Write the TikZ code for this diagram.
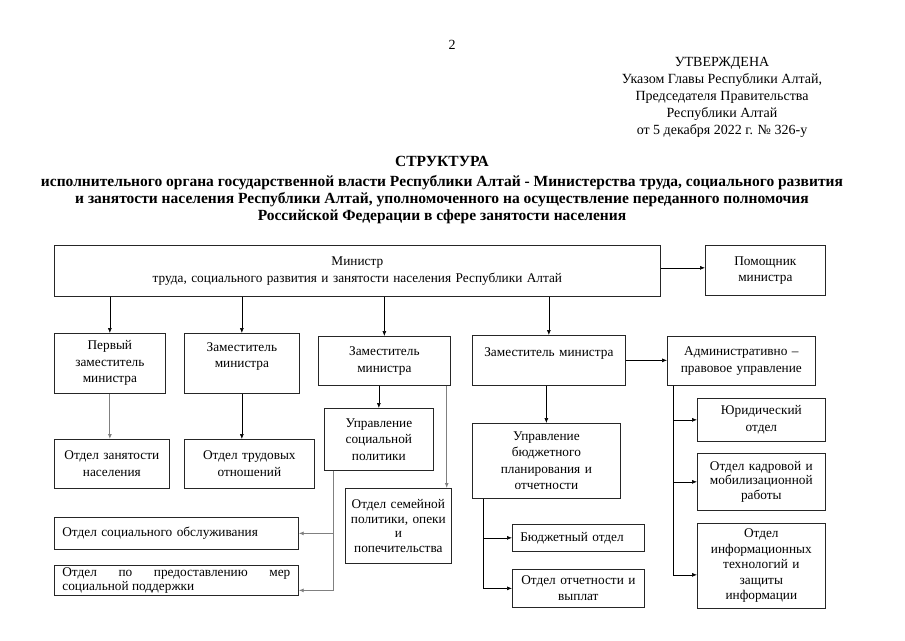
\documentclass[tikz,border=0pt]{standalone}
\usepackage{fontspec}
\setmainfont{Liberation Serif}
\usetikzlibrary{arrows.meta, positioning}

\begin{document}
\begin{tikzpicture}[x=1pt, y=-1pt,
	box/.style={rectangle, draw=black!85, line width=0.7pt, align=center, anchor=north west,
	            inner xsep=3pt, inner ysep=0pt, font=\fontsize{13.3}{16.5}\selectfont},
	bx/.style 2 args={text width=#1, minimum height=#2},
	eng/.style={font=\fontsize{13.3}{14.5}\selectfont},
	kopf/.style={font=\fontsize{14}{17}\selectfont, align=center},
	arr/.style={-{Latex[length=5pt, width=4pt]}, draw=black, line width=0.6pt},
	grau/.style={draw=black!50, line width=0.9pt}
	]
\useasboundingbox (0,0) rectangle (905,640);

\node[kopf] (seite) at (452,45) {2};
\node[kopf] (utv) at (722,97) {УТВЕРЖДЕНА\\Указом Главы Республики Алтай,\\Председателя Правительства\\Республики Алтай\\от 5 декабря 2022 г. № 326-у};
\node[kopf, font=\bfseries\fontsize{15.5}{17}\selectfont] (titel) at (442,190)
	{СТРУКТУРА\\[3pt]исполнительного органа государственной власти Республики Алтай - Министерства труда, социального развития\\и занятости населения Республики Алтай, уполномоченного на осуществление переданного полномочия\\Российской Федерации в сфере занятости населения};

\node[box, bx={600pt}{51pt}] (min) at (54,245)
	{Министр\\труда, социального развития и занятости населения Республики Алтай};
\node[box, bx={114pt}{50pt}] (pom) at (705,245) {Помощник\\министра};
\draw[arr] ([yshift=3pt]min.east) -- ([yshift=3pt]min.east -| pom.west);

\node[box, bx={105pt}{60pt}] (perv) at (54,333) {Первый\\заместитель\\министра};
\node[box, bx={109pt}{60pt}] (zam2) at (184,333) {Заместитель\\министра\\~};
\node[box, bx={126pt}{49pt}] (zam3) at (318,336) {Заместитель\\министра};
\node[box, bx={147pt}{50pt}] (zam4) at (472,335) {Заместитель министра\\~};
\node[box, bx={142pt}{49pt}] (adm) at (667,336) {Административно –\\правовое управление};
\draw[arr] (perv.north |- min.south) -- (perv.north);
\draw[arr] (zam2.north |- min.south) -- (zam2.north);
\draw[arr] (zam3.north |- min.south) -- (zam3.north);
\draw[arr] (zam4.north |- min.south) -- (zam4.north);
\draw[arr] (zam4.east) -- (zam4.east -| adm.west);

\node[box, bx={109pt}{49pt}] (zan) at (54,439) {Отдел занятости\\населения};
\node[box, bx={124pt}{49pt}] (trud) at (184,439) {Отдел трудовых\\отношений};
\draw[arr, grau] (perv.south) -- (perv.south |- zan.north);
\draw[arr] (zam2.south) -- (zam2.south |- trud.north);

\node[box, bx={103pt}{62pt}] (upsoc) at (324,408) {Управление\\социальной\\политики};
\node[box, eng, bx={100pt}{75pt}] (sem) at (345,488)
	{Отдел семейной\\политики, опеки\\и\\попечительства};
\node[box, bx={228pt}{32pt}, inner xsep=8pt, align=left] (socobs) at (54,517) {Отдел социального обслуживания};
\node[box, eng, bx={228pt}{30pt}, inner xsep=8pt, align=justify] (predost) at (54,565)
	{Отдел по предоставлению мер\linebreak социальной поддержки};
\draw[arr] (upsoc.north |- zam3.south) -- (upsoc.north);
\draw[arr, grau] ([xshift=-4pt]zam3.south east) -- ([xshift=-4pt]zam3.south east |- sem.north);
\coordinate (us) at ([xshift=9pt]upsoc.south west);
\draw[arr, grau] (us) |- (socobs.east);
\draw[arr, grau] (us) |- ([yshift=-10pt]predost.east);

\node[box, bx={142pt}{75pt}] (upbud) at (472,423)
	{Управление\\бюджетного\\планирования и\\отчетности};
\node[box, bx={116pt}{27pt}, inner xsep=8pt, align=left] (budg) at (512,524) {Бюджетный отдел};
\node[box, bx={126pt}{38pt}] (otch) at (512,569) {Отдел отчетности и\\выплат};
\draw[arr] (upbud.north |- zam4.south) -- (upbud.north);
\coordinate (ub) at ([xshift=11pt]upbud.south west);
\draw[arr] (ub) |- (budg.west);
\draw[arr] (ub) |- (otch.west);

\node[box, bx={122pt}{43pt}] (jur) at (697,398) {Юридический\\отдел};
\node[box, eng, bx={122pt}{57pt}] (kadr) at (697,453) {Отдел кадровой и\\мобилизационной\\работы};
\node[box, bx={122pt}{85pt}, font=\fontsize{13.3}{15.5}\selectfont] (info) at (697,523)
	{Отдел\\информационных\\технологий и\\защиты\\информации};
\coordinate (ad) at ([xshift=6pt]adm.south west);
\draw[arr] (ad) |- (jur.west);
\draw[arr] (ad) |- (kadr.west);
\draw[arr] (ad) |- ([yshift=-9pt]info.west);
\end{tikzpicture}
\end{document}
